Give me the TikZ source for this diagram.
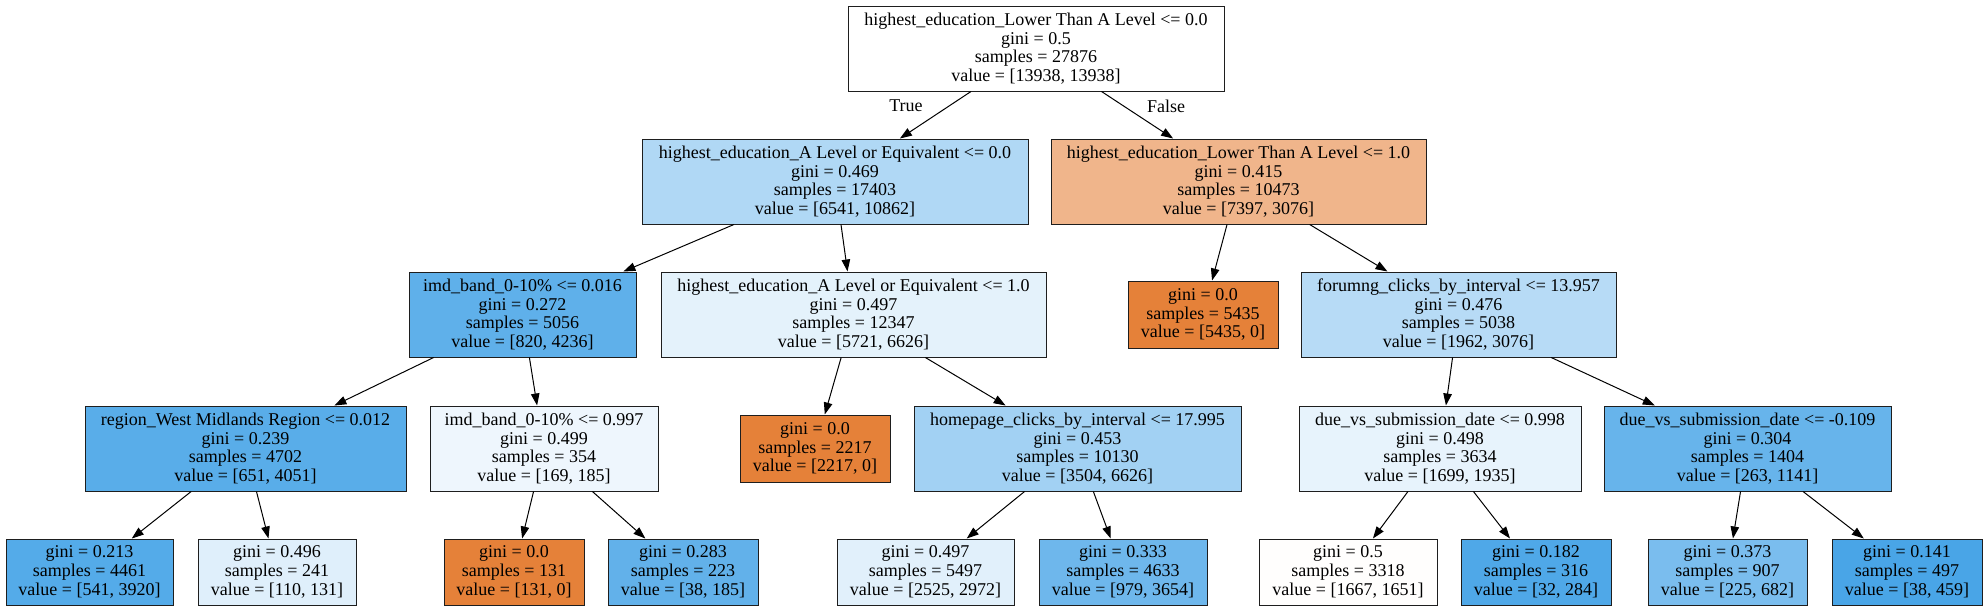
\documentclass[tikz,border=0pt]{standalone}
\usepackage{fontspec}
\setmainfont{Liberation Serif}
\usetikzlibrary{arrows.meta}
\definecolor{cwhite}{RGB}{255,255,255}
\definecolor{cA}{RGB}{176,216,245}
\definecolor{cB}{RGB}{240,181,139}
\definecolor{cC}{RGB}{95,176,234}
\definecolor{cD}{RGB}{228,242,251}
\definecolor{corange}{RGB}{229,129,57}
\definecolor{cE}{RGB}{183,219,246}
\definecolor{cF}{RGB}{89,173,233}
\definecolor{cG}{RGB}{238,246,253}
\definecolor{cH}{RGB}{162,209,243}
\definecolor{cI}{RGB}{231,243,252}
\definecolor{cJ}{RGB}{103,180,235}
\definecolor{cK}{RGB}{84,171,233}
\definecolor{cL}{RGB}{223,239,251}
\definecolor{cM}{RGB}{98,177,234}
\definecolor{cN}{RGB}{225,240,251}
\definecolor{cO}{RGB}{110,183,236}
\definecolor{cP}{RGB}{255,254,253}
\definecolor{cQ}{RGB}{79,168,232}
\definecolor{cR}{RGB}{122,189,238}
\definecolor{cS}{RGB}{73,165,231}
\definecolor{border}{RGB}{30,30,30}
\tikzset{
  treenode/.style={draw=border, line width=1pt, rectangle, align=center, inner sep=0pt,
    font=\fontsize{18}{18.7}\selectfont},
  edge/.style={line width=1pt, -{Triangle[length=12pt,width=8.5pt]}},
  elabel/.style={font=\fontsize{18}{18.7}\selectfont, inner sep=0pt}
}
\newcommand{\bx}[7]{% name, x1, x2, y1, y2, color, text
  \node[treenode, fill=#6, minimum width={#3pt-#2pt}, minimum height={#5pt-#4pt}]
    (#1) at ({(#2+#3)/2*1pt}, {-(#4+#5)/2*1pt}) {#7};}
\begin{document}
\begin{tikzpicture}[x=1pt,y=1pt]
\useasboundingbox (0,0) rectangle (1987,-611);
\bx{root}{848}{1224}{6}{91}{cwhite}{highest\_education\_Lower Than A Level <= 0.0\\gini = 0.5\\samples = 27876\\value = [13938, 13938]}
\bx{n1}{642}{1028}{139}{224}{cA}{highest\_education\_A Level or Equivalent <= 0.0\\gini = 0.469\\samples = 17403\\value = [6541, 10862]}
\bx{n2}{1051}{1426}{139}{224}{cB}{highest\_education\_Lower Than A Level <= 1.0\\gini = 0.415\\samples = 10473\\value = [7397, 3076]}
\bx{n3}{409}{636}{272}{357}{cC}{imd\_band\_0-10\% <= 0.016\\gini = 0.272\\samples = 5056\\value = [820, 4236]}
\bx{n4}{661}{1046}{272}{357}{cD}{highest\_education\_A Level or Equivalent <= 1.0\\gini = 0.497\\samples = 12347\\value = [5721, 6626]}
\bx{n5}{1128}{1278}{281}{348}{corange}{gini = 0.0\\samples = 5435\\value = [5435, 0]}
\bx{n6}{1301}{1616}{272}{357}{cE}{forumng\_clicks\_by\_interval <= 13.957\\gini = 0.476\\samples = 5038\\value = [1962, 3076]}
\bx{n7}{85}{406}{406}{491}{cF}{region\_West Midlands Region <= 0.012\\gini = 0.239\\samples = 4702\\value = [651, 4051]}
\bx{n8}{430}{658}{406}{491}{cG}{imd\_band\_0-10\% <= 0.997\\gini = 0.499\\samples = 354\\value = [169, 185]}
\bx{n9}{740}{890}{415}{482}{corange}{gini = 0.0\\samples = 2217\\value = [2217, 0]}
\bx{n10}{914}{1241}{406}{491}{cH}{homepage\_clicks\_by\_interval <= 17.995\\gini = 0.453\\samples = 10130\\value = [3504, 6626]}
\bx{n11}{1299}{1581}{406}{491}{cI}{due\_vs\_submission\_date <= 0.998\\gini = 0.498\\samples = 3634\\value = [1699, 1935]}
\bx{n12}{1604}{1891}{406}{491}{cJ}{due\_vs\_submission\_date <= -0.109\\gini = 0.304\\samples = 1404\\value = [263, 1141]}
\bx{l1}{6}{173}{539}{605}{cK}{gini = 0.213\\samples = 4461\\value = [541, 3920]}
\bx{l2}{198}{356}{539}{605}{cL}{gini = 0.496\\samples = 241\\value = [110, 131]}
\bx{l3}{444}{584}{539}{605}{corange}{gini = 0.0\\samples = 131\\value = [131, 0]}
\bx{l4}{608}{758}{539}{605}{cM}{gini = 0.283\\samples = 223\\value = [38, 185]}
\bx{l5}{837}{1014}{539}{605}{cN}{gini = 0.497\\samples = 5497\\value = [2525, 2972]}
\bx{l6}{1039}{1207}{539}{605}{cO}{gini = 0.333\\samples = 4633\\value = [979, 3654]}
\bx{l7}{1259}{1437}{539}{605}{cP}{gini = 0.5\\samples = 3318\\value = [1667, 1651]}
\bx{l8}{1461}{1611}{539}{605}{cQ}{gini = 0.182\\samples = 316\\value = [32, 284]}
\bx{l9}{1648}{1807}{539}{605}{cR}{gini = 0.373\\samples = 907\\value = [225, 682]}
\bx{l10}{1832}{1982}{539}{605}{cS}{gini = 0.141\\samples = 497\\value = [38, 459]}
\draw[edge] (root) -- (n1);
\draw[edge] (root) -- (n2);
\draw[edge] (n1) -- (n3);
\draw[edge] (n1) -- (n4);
\draw[edge] (n2) -- (n5);
\draw[edge] (n2) -- (n6);
\draw[edge] (n3) -- (n7);
\draw[edge] (n3) -- (n8);
\draw[edge] (n4) -- (n9);
\draw[edge] (n4) -- (n10);
\draw[edge] (n6) -- (n11);
\draw[edge] (n6) -- (n12);
\draw[edge] (n7) -- (l1);
\draw[edge] (n7) -- (l2);
\draw[edge] (n8) -- (l3);
\draw[edge] (n8) -- (l4);
\draw[edge] (n10) -- (l5);
\draw[edge] (n10) -- (l6);
\draw[edge] (n11) -- (l7);
\draw[edge] (n11) -- (l8);
\draw[edge] (n12) -- (l9);
\draw[edge] (n12) -- (l10);
\node[elabel] (tlab) at (906,-106) {True};
\node[elabel] (flab) at (1166,-106) {False};
\end{tikzpicture}
\end{document}
